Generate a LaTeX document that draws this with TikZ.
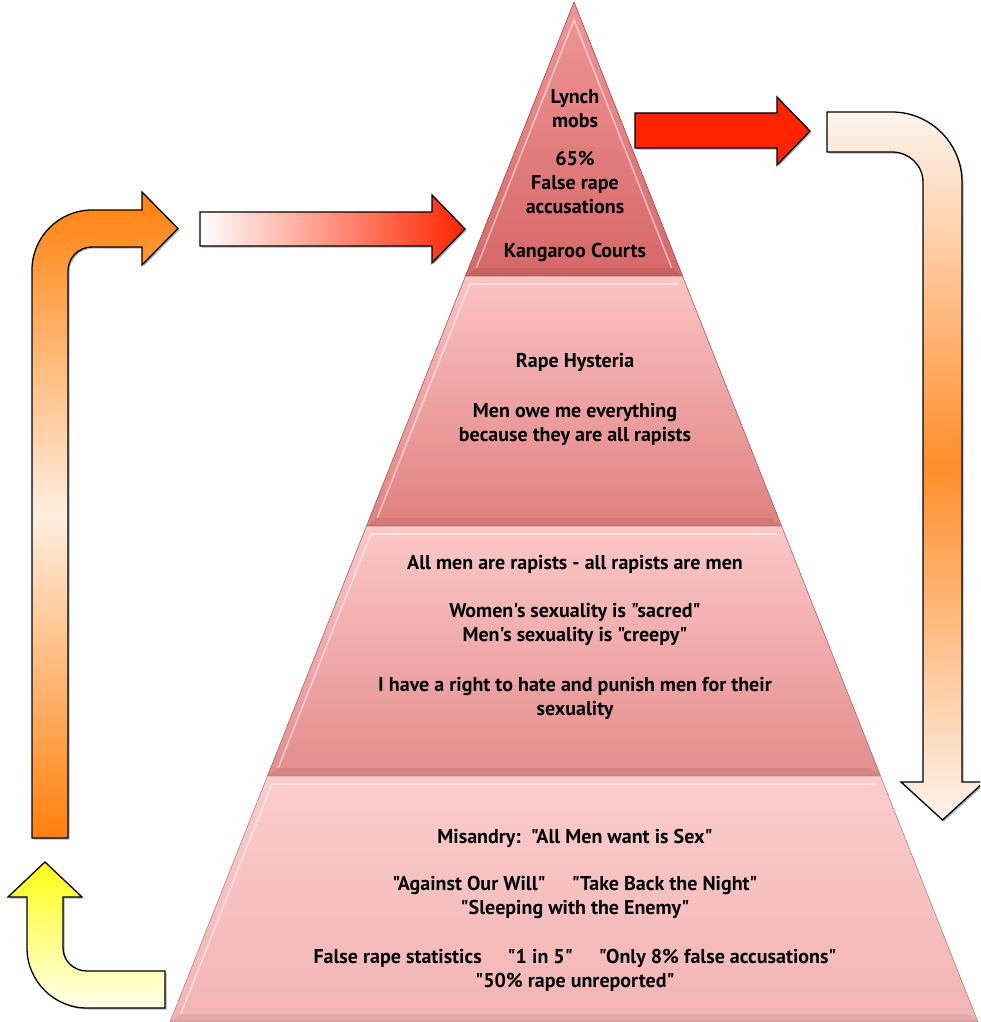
\documentclass[tikz,border=0pt]{standalone}
\usepackage{fontspec}
\setmainfont{PT Sans}[Ligatures=TeXOff]
\usetikzlibrary{shadows}
\definecolor{lAtop}{RGB}{240,150,150}
\definecolor{lAbot}{RGB}{214,104,104}
\definecolor{lBtop}{RGB}{252,196,196}
\definecolor{lBbot}{RGB}{224,128,128}
\definecolor{lCtop}{RGB}{252,200,200}
\definecolor{lCbot}{RGB}{228,140,140}
\definecolor{lDtop}{RGB}{251,204,204}
\definecolor{lDbot}{RGB}{243,180,180}
\definecolor{aorange}{RGB}{255,128,10}
\definecolor{aorangelt}{RGB}{255,238,224}
\definecolor{ared}{RGB}{255,36,0}
\definecolor{apeach}{RGB}{255,142,42}
\definecolor{awhite}{RGB}{253,244,238}
\definecolor{ayellow}{RGB}{255,255,20}
\definecolor{acream}{RGB}{255,255,236}
\newcommand\pyrlayer[4]{%
  \fill[top color=#3, bottom color=#4]
    ({574-0.396*(#1-2)},#1) -- ({574+0.396*(#1-2)},#1) --
    ({574+0.396*(#2-2)},#2) -- ({574-0.396*(#2-2)},#2) -- cycle;
  \fill[#4!88!black, opacity=0.55]
    ({574-0.396*(#2-2)},#2) -- ({574+0.396*(#2-2)},#2) --
    ({574+0.396*(#2-10)-7.5},#2-8) -- ({574-0.396*(#2-10)+7.5},#2-8) -- cycle;
  \draw[bevel]
    ({574-0.396*(#2-10)+7.5},#2-8) -- ({574-0.396*(#1+6)+7.5},#1+8) -- ({574+0.396*(#1+6)-7.5},#1+8);
  \draw[draw=#4!80!black, line width=0.6pt]
    ({574-0.396*(#1-2)},#1) -- ({574+0.396*(#1-2)},#1) --
    ({574+0.396*(#2-2)},#2) -- ({574-0.396*(#2-2)},#2) -- cycle;
}
\begin{document}
\begin{tikzpicture}[x=1pt,y=-1pt,
  arrowshape/.style={draw=black, line width=1.3pt, line join=miter,
    drop shadow={shadow xshift=1.5pt, shadow yshift=-1.5pt, opacity=0.3, fill=black}},
  bevel/.style={draw=white, opacity=0.5, line width=1.6pt},
  lbl/.style={font=\fontsize{20}{24}\selectfont\bfseries, align=center, text=black, inner sep=0pt}]
\useasboundingbox (0,0) rectangle (980,1022);
\clip (0,0) rectangle (980,1022);
\fill[white] (0,0) rectangle (980,1022);

% pyramid
\fill[top color=lAtop, bottom color=lAbot] (574,2) -- (682.5,276) -- (465.5,276) -- cycle;
\fill[lAbot!88!black, opacity=0.55] (465.5,276) -- (682.5,276) -- (671.7,268) -- (476.3,268) -- cycle;
\draw[bevel] (476.3,268) -- (574,20) -- (671.7,268);
\draw[draw=lAbot!80!black, line width=0.6pt] (574,2) -- (682.5,276) -- (465.5,276) -- cycle;
\pyrlayer{276}{526}{lBtop}{lBbot}
\pyrlayer{526}{776}{lCtop}{lCbot}
\pyrlayer{776}{1022}{lDtop}{lDbot}

% arrows
\path[arrowshape, top color=aorange, bottom color=aorange, middle color=aorangelt]
  (32,838) -- (32,270) .. controls (32,237) and (59,210) .. (92,210) -- (142,210) -- (142,192)
  -- (178,228.5) -- (142,265) -- (142,247) -- (92,247)
  .. controls (78.7,247) and (68,257.7) .. (68,271) -- (68,838) -- cycle;
\path[arrowshape, left color=white, right color=ared]
  (200,212) -- (432,212) -- (432,195) -- (465,229) -- (432,263) -- (432,246) -- (200,246) -- cycle;
\path[arrowshape, fill=ared]
  (635,113) -- (777,113) -- (777,97) -- (810,131) -- (777,165) -- (777,148) -- (635,148) -- cycle;
\path[arrowshape, top color=awhite, bottom color=awhite, middle color=apeach]
  (827,112) -- (892,112) .. controls (930.5,112) and (962,143.5) .. (962,182) -- (962,782)
  -- (984,782) -- (942.5,820) -- (901,782) -- (923,782) -- (923,182)
  .. controls (923,165.2) and (908.8,152) .. (892,152) -- (827,152) -- cycle;
\path[arrowshape, top color=ayellow, bottom color=acream]
  (165,971) -- (87,971) .. controls (74,971) and (63,961) .. (63,948) -- (63,897) -- (82,897)
  -- (45,862) -- (8,897) -- (27,897) -- (27,948) .. controls (27,981) and (54,1008) .. (87,1008)
  -- (165,1008) -- cycle;

% texts
\node[lbl] (t1a) at (575,109) {Lynch\\mobs};
\node[lbl] (t1b) at (575,182) {65\%\\False rape\\accusations};
\node[lbl] (t1c) at (575,252) {Kangaroo Courts};
\node[lbl] (t2a) at (575,362) {Rape Hysteria};
\node[lbl] (t2b) at (575,424) {Men owe me everything\\because they are all rapists};
\node[lbl] (t3a) at (575,564) {All men are rapists - all rapists are men};
\node[lbl] (t3b) at (575,624) {Women's sexuality is "sacred"\\Men's sexuality is "creepy"};
\node[lbl] (t3c) at (575,698) {I have a right to hate and punish men for their\\sexuality};
\node[lbl] (t4a) at (575,838) {Misandry:\ \ "All Men want is Sex"};
\node[lbl] (t4b) at (575,897) {"Against Our Will"\hspace{1.3em}"Take Back the Night"\\"Sleeping with the Enemy"};
\node[lbl] (t4c) at (575,970) {False rape statistics\hspace{1.3em}"1 in 5"\hspace{1.3em}"Only 8\% false accusations"\\"50\% rape unreported"};
\end{tikzpicture}
\end{document}
